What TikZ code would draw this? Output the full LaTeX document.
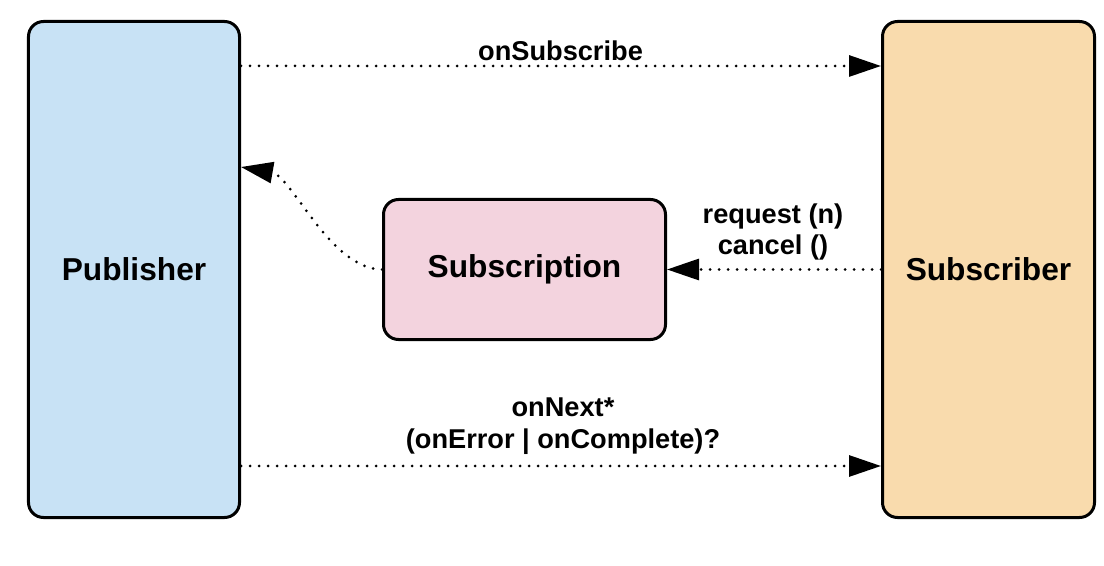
\documentclass[tikz,border=0pt]{standalone}
\usepackage{fontspec}
\setmainfont{Liberation Sans}
\usetikzlibrary{arrows.meta,calc}
\definecolor{pubfill}{HTML}{C8E2F5}
\definecolor{subfill}{HTML}{F9DBAD}
\definecolor{scfill}{HTML}{F3D3DE}
\begin{document}
\begin{tikzpicture}[x=1bp,y=-1bp,
  box/.style={draw=black,line width=3bp,rounded corners=15bp,inner sep=0pt,
    font=\fontsize{31.8}{36}\selectfont\bfseries},
  msg/.style={draw=black,line width=3bp,line cap=round,dash pattern=on 0bp off 9bp,
    -{Triangle[length=32bp,width=21bp]}},
  lbl/.style={inner sep=0pt,align=center,font=\fontsize{27.3}{32}\selectfont\bfseries}]
\useasboundingbox (0,0) rectangle (1104,566);
\node[box,fill=pubfill,minimum width=211bp,minimum height=496bp] (pub) at (134,269.5) {Publisher};
\node[box,fill=subfill,minimum width=212bp,minimum height=496bp] (sub) at (988.5,269.5) {Subscriber};
\node[box,fill=scfill,minimum width=282bp,minimum height=140bp] (sc) at (524.5,269.5) {Subscription};
\draw[msg] ($(pub.north east)+(0,46)$) -- ($(sub.north west)+(0,46)$);
\draw[msg] ($(pub.north east)+(0,446)$) -- ($(sub.north west)+(0,446)$);
\draw[msg] (sub.west) -- (sc.east);
\draw[msg] (sc.west) .. controls (330,269) and (292,176) .. ($(pub.east)+(0,-102.5)$);
\node[lbl] (l1) at (560.5,51) {onSubscribe};
\node[lbl] (l2) at (773,232) {request (n)\\cancel ()};
\node[lbl] (l3) at (563,426) {onNext*\\(onError | onComplete)?};
\end{tikzpicture}
\end{document}
